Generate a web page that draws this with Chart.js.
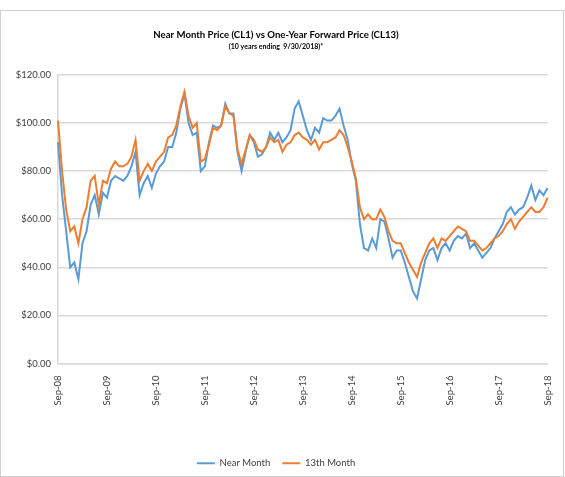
<!DOCTYPE html>
<html>
<head>
<meta charset="utf-8">
<script src="https://cdn.jsdelivr.net/npm/chart.js@4"></script>
<style>
  body { margin: 0; background: #fff; }
  #frame { position: absolute; left: 0; top: 10px; width: 562px; height: 465px; border: 1px solid #d0d0d0; }
</style>
</head>
<body>
<div id="frame"><canvas id="oilChart" width="562" height="465"></canvas></div>
<script>
const years = ["08","09","10","11","12","13","14","15","16","17","18"];
const months = ["Jan","Feb","Mar","Apr","May","Jun","Jul","Aug","Sep","Oct","Nov","Dec"];

// month-end readings, Sep-08 .. Sep-18
const nearMonth = [
  92, 70, 55, 40,
  42, 35, 50, 55, 66, 70, 62, 71, 69, 76, 78, 77,
  76, 78, 82, 88, 70, 75, 78, 73, 79, 82, 84, 90,
  90, 96, 106, 112, 100, 95, 96, 80, 82, 92, 99, 98,
  99, 108, 104, 104, 88, 80, 88, 95, 92, 86, 87, 90,
  96, 93, 96, 92, 94, 97, 106, 109, 103, 97, 93, 98,
  96, 102, 101, 101, 103, 106, 99, 93, 83, 76, 58, 48,
  47, 52, 48, 60, 59, 52, 44, 47, 47, 42, 36, 30,
  27, 35, 43, 47, 48, 43, 48, 50, 47, 51, 53, 52,
  54, 48, 50, 47, 44, 46, 48, 52, 55, 58, 63, 65,
  62, 64, 65, 69, 74, 68, 72, 70, 73
];
const thirteenthMonth = [
  101, 80, 64, 55,
  57, 50, 60, 65, 76, 78, 66, 76, 75, 81, 84, 82,
  82, 83, 86, 93, 76, 80, 83, 80, 84, 86, 88, 94,
  95, 99, 107, 113, 103, 98, 100, 84, 85, 91, 98, 97,
  99, 107, 104, 103, 89, 83, 89, 95, 93, 89, 88, 90,
  94, 92, 93, 88, 91, 92, 95, 96, 94, 93, 91, 93,
  89, 92, 92, 93, 94, 97, 95, 90, 84, 77, 65, 60,
  62, 60, 60, 64, 61, 55, 51, 50, 50, 46, 42, 39,
  36, 42, 46, 50, 52, 48, 52, 51, 53, 55, 57, 56,
  55, 51, 51, 49, 47, 48, 50, 52, 53, 55, 58, 60,
  56, 59, 61, 63, 65, 63, 63, 65, 69
];

// Sep-08 ... Sep-18
const labels = [];
for (let y = 0; y < years.length; y++) {
  for (let m = 0; m < 12; m++) {
    if (y === 0 && m < 8) continue;
    if (y === years.length - 1 && m > 8) continue;
    labels.push(months[m] + "-" + years[y]);
  }
}

const textColor = '#404040';
const gridColor = '#d9d9d9';
const face = "Lato, sans-serif";

const data = {
  labels: labels,
  datasets: [{
    label: 'Near Month',
    data: nearMonth,
    borderColor: '#5b9bd5',
    backgroundColor: '#5b9bd5',
    borderWidth: 2,
    pointRadius: 0,
    order: 2
  }, {
    label: '13th Month',
    data: thirteenthMonth,
    borderColor: '#ed7d31',
    backgroundColor: '#ed7d31',
    borderWidth: 2,
    pointRadius: 0,
    order: 1
  }]
};

const config = {
  type: 'line',
  data: data,
  options: {
    responsive: false,
    animation: false,
    layout: { padding: { left: 0, right: 12, top: 0, bottom: -2 } },
    plugins: {
      title: {
        display: true,
        text: 'Near Month Price (CL1) vs One-Year Forward Price (CL13)',
        color: '#000',
        font: { family: face, size: 9.6, weight: 'bold' },
        padding: { top: 18.1, bottom: 0 }
      },
      subtitle: {
        display: true,
        text: '(10 years ending  9/30/2018)*',
        color: '#000',
        font: { family: face, size: 7, weight: 'bold' },
        padding: { top: 1.8, bottom: 24.1 }
      },
      legend: {
        position: 'bottom',
        labels: {
          usePointStyle: true,
          pointStyle: 'line',
          pointStyleWidth: 18,
          color: textColor,
          font: { family: face, size: 9.5 },
          padding: 12,
          sort: (a, b) => a.datasetIndex - b.datasetIndex
        }
      },
      tooltip: { enabled: false }
    },
    scales: {
      x: {
        grid: { display: false },
        border: { display: true, color: gridColor, width: 1.5 },
        ticks: {
          autoSkip: false,
          minRotation: 90,
          maxRotation: 90,
          color: textColor,
          font: { family: face, size: 9.5 },
          padding: 4,
          callback: function (value, index) {
            return index % 12 === 0 ? this.getLabelForValue(value) : null;
          }
        },
        afterFit: function (scale) { scale.height = 83; }
      },
      y: {
        min: 0,
        max: 120,
        grid: { color: gridColor, lineWidth: 1.5, drawTicks: false },
        border: { display: true, color: gridColor, width: 1.5 },
        ticks: {
          stepSize: 20,
          color: textColor,
          font: { family: face, size: 9.5 },
          padding: 7,
          callback: v => '$' + v.toFixed(2)
        },
        afterFit: function (scale) { scale.width = 57; }
      }
    }
  }
};

var oilChart = new Chart(document.getElementById('oilChart'), config);
</script>
</body>
</html>
